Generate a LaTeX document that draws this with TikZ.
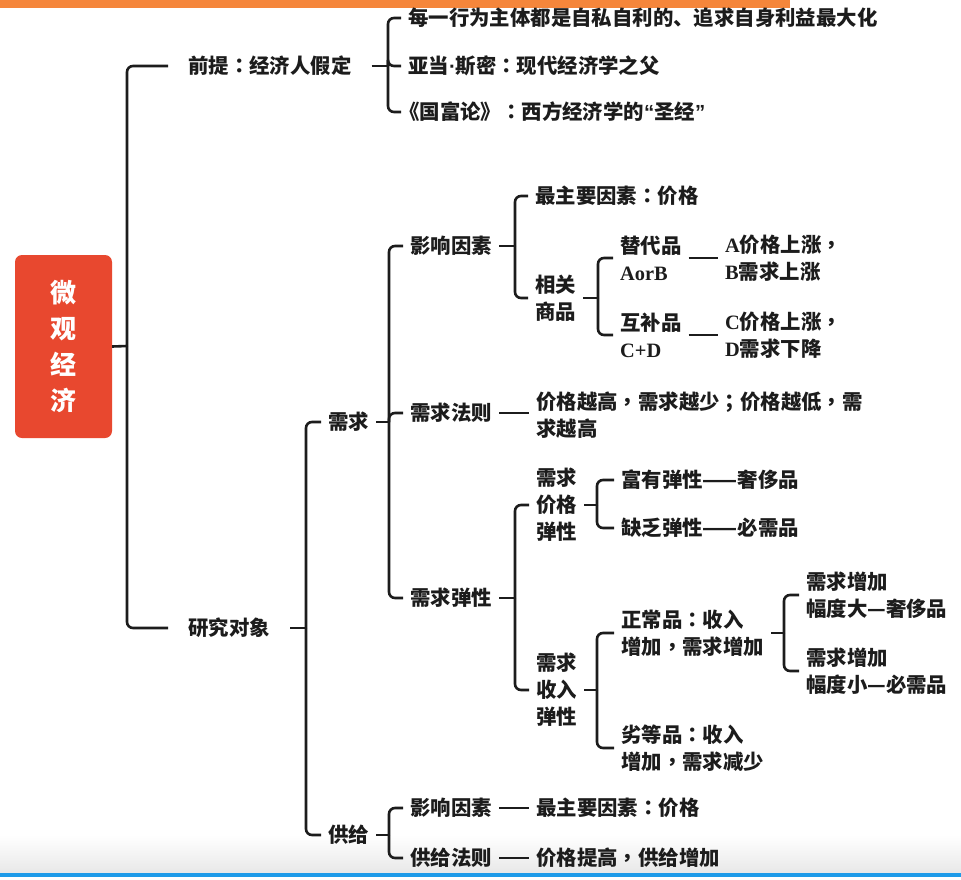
\documentclass[tikz,border=0pt]{standalone}
\usepackage{fontspec}
\setmainfont{Noto Sans CJK SC}
\newfontfamily\tcfont{Noto Sans CJK TC}
\newfontfamily\latinserif{Liberation Serif}
\newfontfamily\latinsans{Liberation Sans}
\definecolor{ink}{HTML}{1C1C1C}
\definecolor{rootred}{HTML}{E8482F}
\definecolor{banner}{HTML}{F5863B}
\definecolor{baseblue}{HTML}{1E9BE9}
% serif Latin letters, centred punctuation, narrow Latin marks
\newcommand{\ls}[1]{{\latinserif\bfseries #1}}
\newcommand{\pct}[1]{{\tcfont\bfseries #1}}
\newcommand{\lm}[1]{{\latinsans\bfseries #1}}
\tikzset{
  conn/.style={draw=ink, line width=2.6pt, rounded corners=6pt},
  txt/.style={anchor=west, inner ysep=1pt, text=ink, align=left,
    font=\fontsize{20.4}{27}\selectfont\bfseries},
  lvlone/.style={txt, inner xsep=20pt},
  item/.style={txt, inner xsep=7pt},
  rootbox/.style={fill=rootred, rounded corners=7pt, minimum width=97pt,
    minimum height=183pt, text=white, align=center, inner sep=0pt,
    font=\fontsize{26}{36}\selectfont\bfseries},
}
\begin{document}
\begin{tikzpicture}[x=1pt,y=-1pt]
\useasboundingbox (0,0) rectangle (961,879);
\fill[white] (0,0) rectangle (961,879);
% header strip and footer band
\fill[banner] (0,0) rectangle (790,8);
\shade[top color=white, bottom color=black!9] (0,835) rectangle (961,873);
\fill[baseblue] (0,873) rectangle (961,877);

% root
\node[rootbox] (root) at (63.5,346.5) {微\\观\\经\\济};

% level 1
\node[lvlone] (premise) at (168,66) {前提\pct{：}经济人假定};
\node[lvlone] (study) at (168,628) {研究对象};

% premise branch
\node[item] (p1) at (401,18) {每一行为主体都是自私自利的、追求自身利益最大化};
\node[item] (p2) at (401,66) {亚当\lm{·}斯密\pct{：}现代经济学之父};
\node[item] (p3) at (401,112) {\hspace{-9pt}《国富论》\pct{：}西方经济学的\lm{“}圣经\lm{”}};

% research objects
\node[item] (demand) at (321,422) {需求};
\node[item] (supply) at (321,835) {供给};

% demand
\node[item] (d1) at (403,246) {影响因素};
\node[item] (d2) at (403,413) {需求法则};
\node[item] (d3) at (403,598) {需求弹性};

\node[item] (f1) at (528,196) {最主要因素\pct{：}价格};
\node[item] (f2) at (528,298) {相关\\商品};
\node[item] (sub) at (613,258) {替代品\\\ls{AorB}};
\node[item] (com) at (613,335) {互补品\\\ls{C+D}};
\node[item] (subr) at (718,258) {\ls{A}价格上涨\pct{，}\\\ls{B}需求上涨};
\node[item] (comr) at (718,335) {\ls{C}价格上涨\pct{，}\\\ls{D}需求下降};

\node[item] (law) at (529,415) {价格越高\pct{，}需求越少\pct{；}价格越低\pct{，}需\\求越高};

\node[item] (pe) at (529,505) {需求\\价格\\弹性};
\node[item] (ie) at (529,690) {需求\\收入\\弹性};
\node[item] (rich) at (614,480) {富有弹性——奢侈品};
\node[item] (lack) at (614,528) {缺乏弹性——必需品};
\node[item] (norm) at (614,633) {正常品\pct{：}收入\\增加\pct{，}需求增加};
\node[item] (inf) at (614,748) {劣等品\pct{：}收入\\增加\pct{，}需求减少};
\node[item] (big) at (799,595) {需求增加\\幅度大—奢侈品};
\node[item] (small) at (799,671) {需求增加\\幅度小—必需品};

% supply
\node[item] (s1) at (403,808) {影响因素};
\node[item] (s2) at (403,858) {供给法则};
\node[item] (s1r) at (529,808) {最主要因素\pct{：}价格};
\node[item] (s2r) at (529,858) {价格提高\pct{，}供给增加};

% junction points of the brackets
\coordinate (j0) at (127,346);
\coordinate (j1) at (388,66);
\coordinate (j2) at (306,628);
\coordinate (j3) at (389,422);
\coordinate (j4) at (515,246);
\coordinate (j5) at (598,298);
\coordinate (j6) at (515,598);
\coordinate (j7) at (597,505);
\coordinate (j8) at (597,690);
\coordinate (j9) at (784,633);
\coordinate (j10) at (389,835);

% brackets
\draw[conn] (root.east) -- (j0);
\foreach \c in {premise,study} \draw[conn] (j0) |- (\c.west);
\draw[conn] (premise.east) -- (j1);
\foreach \c in {p1,p2,p3} \draw[conn] (j1) |- (\c.west);
\draw[conn] (study.east) -- (j2);
\foreach \c in {demand,supply} \draw[conn] (j2) |- (\c.west);
\draw[conn] (demand.east) -- (j3);
\foreach \c in {d1,d2,d3} \draw[conn] (j3) |- (\c.west);
\draw[conn] (d1.east) -- (j4);
\foreach \c in {f1,f2} \draw[conn] (j4) |- (\c.west);
\draw[conn] (f2.east) -- (j5);
\foreach \c in {sub,com} \draw[conn] (j5) |- (\c.west);
\draw[conn] (d3.east) -- (j6);
\foreach \c in {pe,ie} \draw[conn] (j6) |- (\c.west);
\draw[conn] (pe.east) -- (j7);
\foreach \c in {rich,lack} \draw[conn] (j7) |- (\c.west);
\draw[conn] (ie.east) -- (j8);
\foreach \c in {norm,inf} \draw[conn] (j8) |- (\c.west);
\draw[conn] (norm.east) -- (j9);
\foreach \c in {big,small} \draw[conn] (j9) |- (\c.west);
\draw[conn] (supply.east) -- (j10);
\foreach \c in {s1,s2} \draw[conn] (j10) |- (\c.west);

% straight links
\draw[conn] (d2.east) -- (d2.east -| law.west);
\draw[conn] (sub.east) -- (subr.west);
\draw[conn] (com.east) -- (comr.west);
\draw[conn] (s1.east) -- (s1r.west);
\draw[conn] (s2.east) -- (s2r.west);
\end{tikzpicture}
\end{document}
